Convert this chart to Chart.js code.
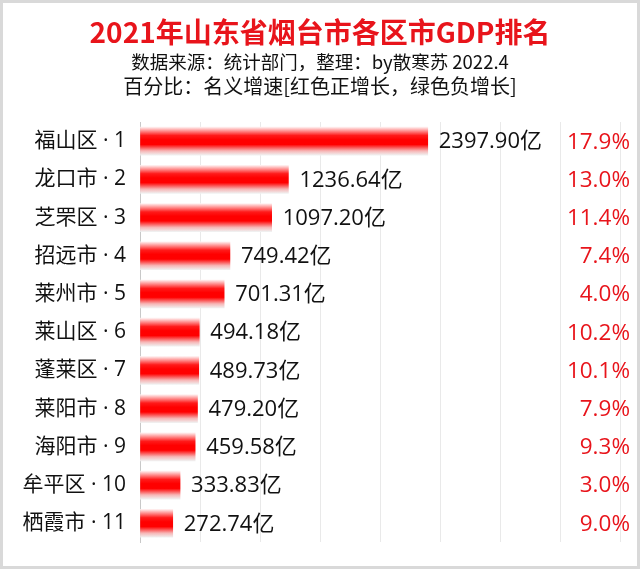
<!DOCTYPE html>
<html><head><meta charset="utf-8">
<script src="https://cdn.jsdelivr.net/npm/chart.js@4"></script>
<style>html,body{margin:0;padding:0;background:#fff}#wrap{width:640px;height:569px;position:relative}</style>
</head><body><div id="wrap"><canvas id="c" width="640" height="569"></canvas></div>
<script>
const titleText = '2021年山东省烟台市各区市GDP排名';
const subtitleLines = ['数据来源：统计部门，整理：by散寒苏 2022.4', '百分比：名义增速[红色正增长，绿色负增长]'];
const categories = ['福山区 · 1','龙口市 · 2','芝罘区 · 3','招远市 · 4','莱州市 · 5','莱山区 · 6','蓬莱区 · 7','莱阳市 · 8','海阳市 · 9','牟平区 · 10','栖霞市 · 11'];
const gdpValues = [2397.90,1236.64,1097.20,749.42,701.31,494.18,489.73,479.20,459.58,333.83,272.74];
const growthValues = [17.9,13.0,11.4,7.4,4.0,10.2,10.1,7.9,9.3,3.0,9.0];
const xMax = 4000, xStep = 500;

const BAR_H = 28;
const CJK = '"Noto Sans CJK SC", sans-serif';
const NUMF = '"Open Sans", "Noto Sans CJK SC", sans-serif';

const deco = {
  id: 'deco',
  beforeDraw(chart) {
    const ctx = chart.ctx;
    ctx.save();
    ctx.fillStyle = '#fff';
    ctx.fillRect(0, 0, chart.width, chart.height);
    ctx.strokeStyle = '#d9d9d9';
    ctx.lineWidth = 3;
    ctx.strokeRect(1.5, 1.5, chart.width - 3, chart.height - 3);
    ctx.textAlign = 'center';
    ctx.textBaseline = 'middle';
    ctx.fillStyle = '#e8141b';
    ctx.font = 'bold 28px ' + CJK;
    ctx.fillText(titleText, 320, 32);
    ctx.fillStyle = '#111';
    ctx.font = '18.5px ' + CJK;
    ctx.fillText(subtitleLines[0], 320, 62);
    ctx.font = '20px ' + CJK;
    ctx.fillText(subtitleLines[1], 320, 86);
    ctx.restore();
  },
  afterDatasetsDraw(chart) {
    const ctx = chart.ctx;
    const meta = chart.getDatasetMeta(0);
    ctx.save();
    ctx.textBaseline = 'middle';
    meta.data.forEach((bar, i) => {
      ctx.font = '22px ' + NUMF;
      ctx.fillStyle = '#111';
      ctx.textAlign = 'left';
      ctx.fillText(gdpValues[i].toFixed(2) + '亿', bar.x + 11, bar.y + 1);
      const g = growthValues[i];
      ctx.fillStyle = g >= 0 ? '#e8141b' : '#1a9a2a';
      ctx.textAlign = 'right';
      ctx.font = '22.5px ' + NUMF;
      ctx.fillText(g.toFixed(1) + '%', 630, bar.y + 1);
    });
    ctx.restore();
  }
};

new Chart(document.getElementById('c'), {
  type: 'bar',
  data: {
    labels: categories,
    datasets: [{
      data: gdpValues,
      barThickness: BAR_H,
      borderWidth: 0,
      backgroundColor(context) {
        const chart = context.chart;
        const ys = chart.scales.y;
        if (!ys || !chart.chartArea) return '#ff0000';
        const cy = ys.getPixelForValue(context.dataIndex);
        const g = chart.ctx.createLinearGradient(0, cy - BAR_H / 2, 0, cy + BAR_H / 2);
        g.addColorStop(0, 'rgba(255,240,240,1)');
        g.addColorStop(0.3, '#ff1a1a');
        g.addColorStop(0.45, '#ff0000');
        g.addColorStop(0.62, '#ff0000');
        g.addColorStop(0.85, '#f7b5b5');
        g.addColorStop(1, 'rgba(240,240,240,1)');
        return g;
      }
    }]
  },
  options: {
    indexAxis: 'y',
    responsive: false,
    animation: false,
    devicePixelRatio: 1,
    layout: { padding: { top: 122, right: 20, bottom: 21, left: 0 } },
    plugins: { legend: { display: false }, title: { display: false }, tooltip: { enabled: false } },
    scales: {
      x: {
        min: 0, max: xMax,
        ticks: { display: false, stepSize: xStep },
        grid: { color: '#e9e9e9', drawTicks: false, lineWidth: 1 },
        border: { display: false }
      },
      y: {
        afterFit(scale) { scale.width = 140; },
        ticks: { color: '#111', font: { size: 21, family: NUMF }, padding: 14 },
        grid: { display: false, drawTicks: false },
        border: { color: '#c8c8c8', width: 1 }
      }
    }
  },
  plugins: [deco]
});
</script></body></html>
